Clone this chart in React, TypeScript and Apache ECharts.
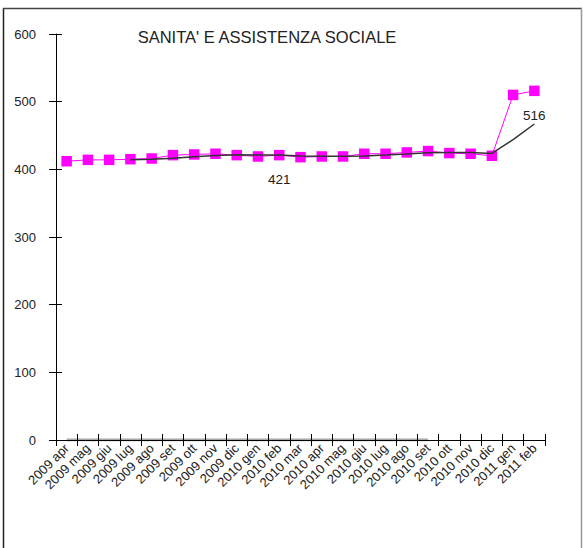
import React, { useEffect, useRef } from "react";
import * as echarts from "echarts";

const categories = [
  "2009 apr", "2009 mag", "2009 giu", "2009 lug", "2009 ago", "2009 set",
  "2009 ott", "2009 nov", "2009 dic", "2010 gen", "2010 feb", "2010 mar",
  "2010 apr", "2010 mag", "2010 giu", "2010 lug", "2010 ago", "2010 set",
  "2010 ott", "2010 nov", "2010 dic", "2011 gen", "2011 feb",
];

const sanitaValues = [
  412, 414, 414, 415, 416, 421, 422, 423, 421, 419, 421, 418,
  419, 419, 423, 423, 425, 427, 424, 423, 420, 510, 516,
];

// trend line (moving average as drawn in the reference)
const trendValues: (number | string)[] = [
  "-", "-", "-", 414, 415, 416.5, 418.5, 420.5, 421.5, 421.3, 421, 419.8,
  419.3, 419.3, 419.8, 421, 422.5, 424.5, 424.8, 424.8, 423.5, 444, 467,
];

// faint grey series lying on the zero line
const zeroValues: (number | string)[] = [
  0, 0, 0, 0, 0, 0, 0, 0, 0, 0, 0, 0, 0, 0, 0, 0, 0, 0,
  "-", "-", "-", "-", "-",
];

const labelledIndices = [10, 22];

const yTicks = [0, 100, 200, 300, 400, 500, 600];

export default function App() {
  const ref = useRef<HTMLDivElement>(null);
  useEffect(() => {
    if (!ref.current) return;
    const chart = echarts.init(ref.current, null, { renderer: "svg" });
    const font = "'Liberation Sans', Arial, sans-serif";
    const grid = { left: 56, top: 34, right: 38, bottom: 108 };
    chart.setOption({
      animation: false,
      backgroundColor: "#ffffff",
      textStyle: { fontFamily: font },
      title: {
        text: "SANITA' E ASSISTENZA SOCIALE",
        left: 262,
        textAlign: "center",
        top: 23,
        textStyle: { fontFamily: font, fontSize: 16.5, fontWeight: "normal", color: "#222" },
      },
      graphic: [
        { type: "line", shape: { x1: 3.5, y1: 8, x2: 3.5, y2: 548 }, style: { stroke: "#222", lineWidth: 1.5 } },
        { type: "line", shape: { x1: 3, y1: 8.5, x2: 582, y2: 8.5 }, style: { stroke: "#444", lineWidth: 1.5 } },
        { type: "line", shape: { x1: 581.5, y1: 8, x2: 581.5, y2: 548 }, style: { stroke: "#999", lineWidth: 1.5 } },
      ],
      grid: [grid],
      xAxis: [
        {
          type: "category",
          data: categories,
          boundaryGap: true,
          z: 5,
          axisLine: { lineStyle: { color: "#000", width: 1 } },
          axisTick: { show: true, inside: false, interval: 0, length: 6, lineStyle: { color: "#000" } },
          axisLabel: {
            rotate: 45,
            interval: 0,
            fontSize: 13,
            color: "#222",
            fontFamily: font,
            margin: 6,
          },
          splitLine: { show: false },
        },
        {
          type: "category",
          data: categories,
          position: "bottom",
          boundaryGap: true,
          z: 5,
          axisLine: { show: false },
          axisTick: { show: true, inside: true, interval: 0, length: 6, lineStyle: { color: "#000" } },
          axisLabel: { show: false },
          splitLine: { show: false },
        },
      ],
      yAxis: [
        {
          type: "value",
          min: 0,
          max: 600,
          interval: 100,
          z: 5,
          axisLine: { show: true, lineStyle: { color: "#000", width: 1 } },
          axisTick: { show: true, inside: false, length: 7, lineStyle: { color: "#000" } },
          axisLabel: {
            fontSize: 13,
            color: "#222",
            fontFamily: font,
            margin: 20,
            customValues: yTicks,
          },
          splitLine: { show: false },
        },
        {
          type: "value",
          min: 0,
          max: 600,
          interval: 100,
          position: "left",
          z: 5,
          axisLine: { show: false },
          axisTick: { show: true, inside: true, length: 6, lineStyle: { color: "#000" } },
          axisLabel: { show: false },
          splitLine: { show: false },
        },
      ],
      series: [
        {
          name: "zero",
          type: "line",
          data: zeroValues,
          symbol: "none",
          z: 1,
          lineStyle: { color: "#a8a8a8", width: 3 },
          silent: true,
        },
        {
          name: "SANITA' E ASSISTENZA SOCIALE",
          type: "line",
          data: sanitaValues.map((v, i) =>
            labelledIndices.includes(i)
              ? {
                  value: v,
                  label: {
                    show: true,
                    position: "bottom",
                    distance: 12,
                    fontSize: 13.5,
                    color: "#222",
                    fontFamily: font,
                  },
                }
              : v
          ),
          symbol: "rect",
          symbolSize: 10.5,
          z: 3,
          itemStyle: { color: "#ff00ff" },
          lineStyle: { color: "#ff00ff", width: 1 },
        },
        {
          name: "trend",
          type: "line",
          data: trendValues,
          symbol: "none",
          z: 4,
          lineStyle: { color: "#333", width: 1.5 },
        },
      ],
    });
    return () => chart.dispose();
  }, []);
  return (
    <div
      ref={ref}
      style={{ position: "fixed", left: 0, top: 0, width: 583, height: 548 }}
    />
  );
}
